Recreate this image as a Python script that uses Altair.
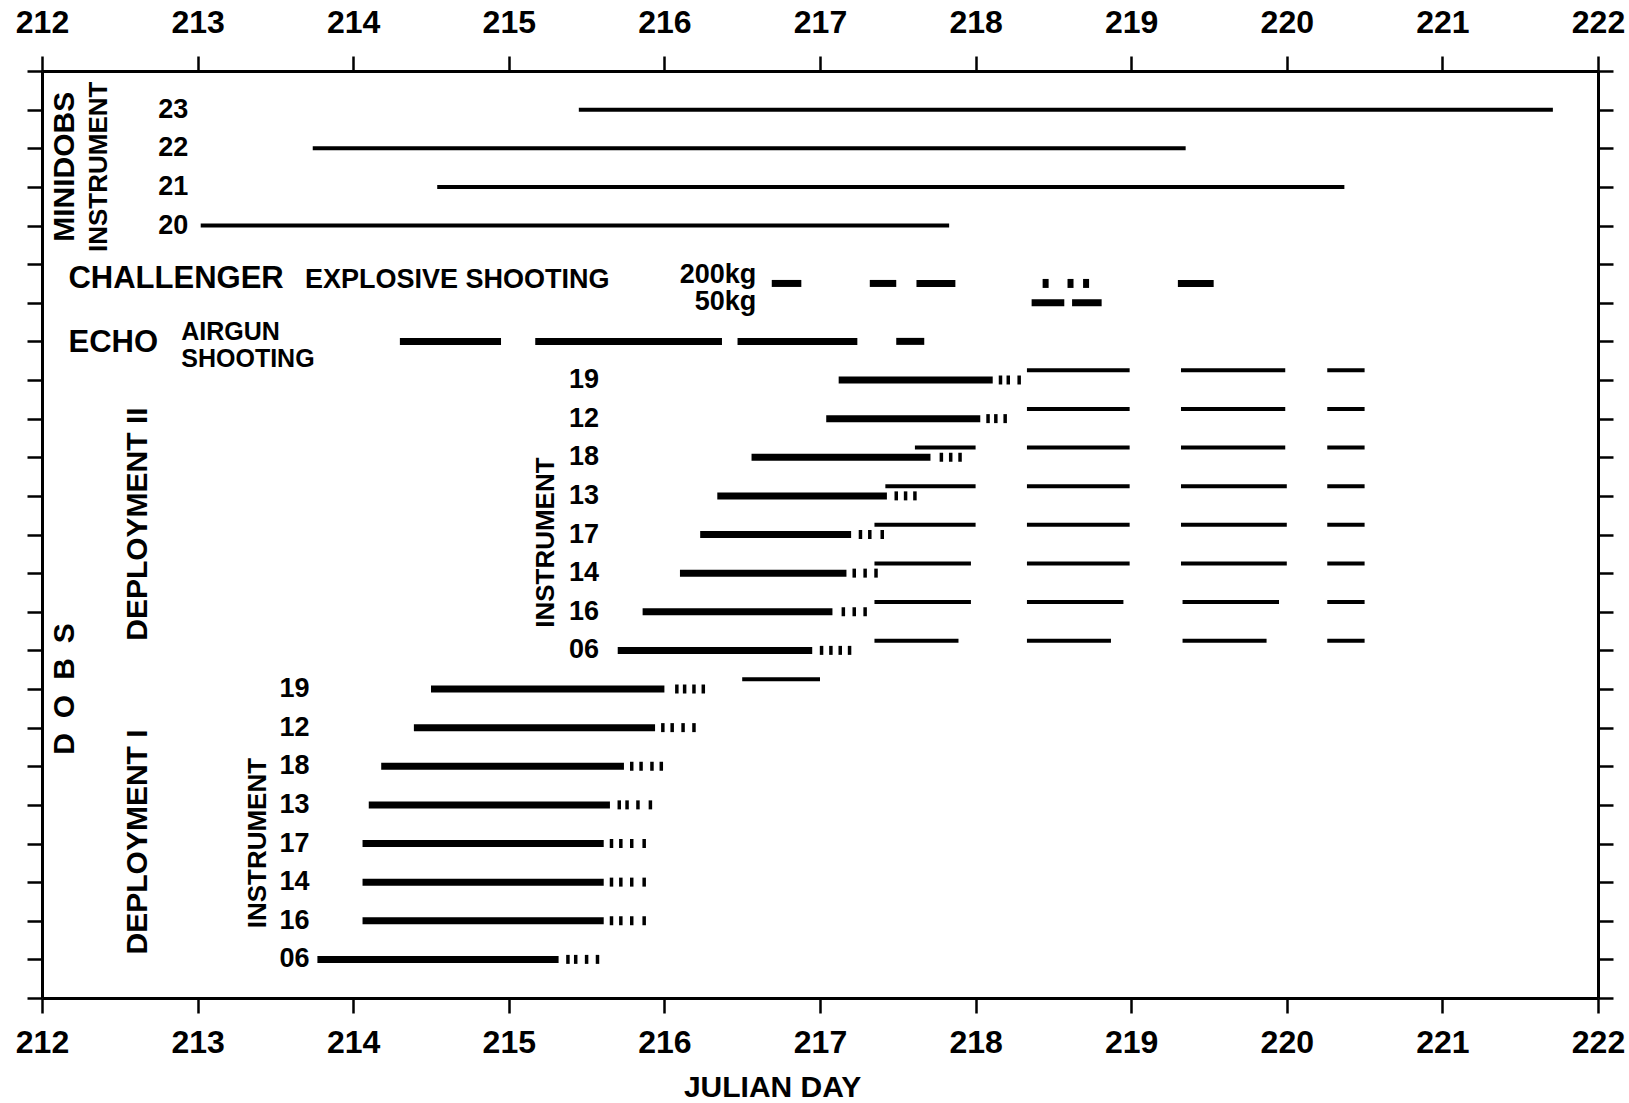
import altair as alt
import pandas as pd

FONT = "Liberation Sans"

# ---------------- axes ----------------
day_ticks = list(range(212, 223))
row_ticks = list(range(0, 25))

# ---------------- MINIDOBS instruments ----------------
mini_ids = ["23", "22", "21", "20"]
mini_rows = [1, 2, 3, 4]
mini_start = [215.45, 213.74, 214.54, 213.02]
mini_end = [221.71, 219.35, 220.37, 217.83]

# ---------------- CHALLENGER explosive shooting ----------------
shot200_row = 5.5
shot200_start = [216.69, 217.32, 217.62, 219.30]
shot200_end = [216.88, 217.49, 217.87, 219.53]
shot200_single = [218.45, 218.61, 218.71]
shot50_row = 6
shot50_start = [218.36, 218.62]
shot50_end = [218.57, 218.81]

# ---------------- ECHO airgun shooting ----------------
airgun_row = 7
airgun_start = [214.30, 215.17, 216.47, 217.49]
airgun_end = [214.95, 216.37, 217.24, 217.67]

# ---------------- DOBS deployment II ----------------
d2_ids = ["19", "12", "18", "13", "17", "14", "16", "06"]
d2_rows = [8, 9, 10, 11, 12, 13, 14, 15]
d2_start = [217.12, 217.04, 216.56, 216.34, 216.23, 216.10, 215.86, 215.70]
d2_end = [218.11, 218.03, 217.71, 217.43, 217.20, 217.17, 217.08, 216.95]
d2_dots = [
    [218.16, 218.21, 218.28],
    [218.08, 218.13, 218.19],
    [217.78, 217.84, 217.90],
    [217.49, 217.55, 217.61],
    [217.26, 217.32, 217.40],
    [217.22, 217.29, 217.36],
    [217.15, 217.22, 217.29],
    [217.01, 217.07, 217.13, 217.19],
]
# second recording (only rows 18..06)
d2_rec2_rows = [10, 11, 12, 13, 14, 15]
d2_rec2_start = [217.61, 217.42, 217.35, 217.35, 217.35, 217.35]
d2_rec2_end = [218.00, 218.00, 218.00, 217.97, 217.97, 217.89]
# later recordings (three per instrument)
d2_rec3_start = [218.33, 218.33, 218.33, 218.33, 218.33, 218.33, 218.33, 218.33]
d2_rec3_end = [218.99, 218.99, 218.99, 218.99, 218.99, 218.99, 218.95, 218.87]
d2_rec4_start = [219.32, 219.32, 219.32, 219.32, 219.32, 219.32, 219.33, 219.33]
d2_rec4_end = [219.99, 219.99, 219.99, 220.00, 220.00, 220.00, 219.95, 219.87]
d2_rec5_start = [220.26, 220.26, 220.26, 220.26, 220.26, 220.26, 220.26, 220.26]
d2_rec5_end = [220.50, 220.50, 220.50, 220.50, 220.50, 220.50, 220.50, 220.50]

# ---------------- DOBS deployment I ----------------
d1_ids = ["19", "12", "18", "13", "17", "14", "16", "06"]
d1_rows = [16, 17, 18, 19, 20, 21, 22, 23]
d1_start = [214.50, 214.39, 214.18, 214.10, 214.06, 214.06, 214.06, 213.77]
d1_end = [216.00, 215.94, 215.74, 215.65, 215.61, 215.61, 215.61, 215.32]
d1_dots = [
    [216.08, 216.13, 216.19, 216.25],
    [215.99, 216.05, 216.12, 216.19],
    [215.79, 215.85, 215.92, 215.98],
    [215.71, 215.76, 215.83, 215.91],
    [215.66, 215.72, 215.79, 215.87],
    [215.66, 215.72, 215.79, 215.87],
    [215.66, 215.72, 215.79, 215.87],
    [215.38, 215.43, 215.50, 215.57],
]
d1_rec2_rows = [16]
d1_rec2_start = [216.50]
d1_rec2_end = [217.00]

REC_SHIFT = 0.25  # later recordings drawn slightly above the instrument row

# ---------------- text annotations ----------------
row_label_text = mini_ids + d2_ids + d1_ids
row_label_row = mini_rows + d2_rows + d1_rows
row_label_x = [212.94] * 4 + [215.58] * 8 + [213.72] * 8

big_text = ["CHALLENGER", "ECHO"]
big_x = [212.17, 212.17]
big_y = [5.38, 7.05]

mid_text = ["EXPLOSIVE SHOOTING"]
mid_x = [213.69]
mid_y = [5.4]

air_text = ["AIRGUN", "SHOOTING"]
air_x = [212.895, 212.895]
air_y = [6.75, 7.45]

kg_text = ["200kg", "50kg"]
kg_x = [216.59, 216.59]
kg_y = [5.27, 5.97]

vbig_text = ["MINIDOBS", "DEPLOYMENT II", "DEPLOYMENT I", "D\u2002O\u2002B\u2002S"]
vbig_x = [212.147, 212.62, 212.62, 212.147]
vbig_y = [2.48, 11.73, 19.96, 16.0]

vsmall_text = ["INSTRUMENT", "INSTRUMENT", "INSTRUMENT"]
vsmall_x = [212.367, 215.24, 213.39]
vsmall_y = [2.48, 12.21, 19.99]

# ---------------- tables ----------------
def segs(starts, ends, rows):
    return pd.DataFrame({"start": starts, "end": ends, "row": rows})

thick = pd.concat([
    segs(shot200_start, shot200_end, [shot200_row] * len(shot200_start)),
    segs(shot50_start, shot50_end, [shot50_row] * len(shot50_start)),
    segs(airgun_start, airgun_end, [airgun_row] * len(airgun_start)),
    segs(d2_start, d2_end, d2_rows),
    segs(d1_start, d1_end, d1_rows),
], ignore_index=True)

shifted_d2 = [r - REC_SHIFT for r in d2_rows]
thin = pd.concat([
    segs(mini_start, mini_end, mini_rows),
    segs(d2_rec2_start, d2_rec2_end, [r - REC_SHIFT for r in d2_rec2_rows]),
    segs(d2_rec3_start, d2_rec3_end, shifted_d2),
    segs(d2_rec4_start, d2_rec4_end, shifted_d2),
    segs(d2_rec5_start, d2_rec5_end, shifted_d2),
    segs(d1_rec2_start, d1_rec2_end, [r - REC_SHIFT for r in d1_rec2_rows]),
], ignore_index=True)

dot_x, dot_row = [], []
for r, ds in zip(d2_rows + d1_rows, d2_dots + d1_dots):
    for d in ds:
        dot_x.append(d)
        dot_row.append(r)
dots = pd.DataFrame({"start": dot_x, "row": dot_row})
singles = pd.DataFrame({"start": shot200_single, "row": [shot200_row] * len(shot200_single)})

xscale = alt.Scale(domain=[212, 222], nice=False, zero=False)
yscale = alt.Scale(domain=[0, 24], nice=False, zero=False, reverse=True)

common_axis = dict(
    grid=False, domainColor="black", domainWidth=3, tickColor="black",
    tickWidth=2.5, tickSize=15, labelColor="black", labelFont=FONT,
    labelFontWeight="bold", labelFontSize=32, labelFlush=False,
    labelOverlap=False,
)

x_bottom = alt.Axis(
    orient="bottom", values=day_ticks, format="d", labelPadding=14,
    title="JULIAN DAY", titleFont=FONT, titleFontSize=30, titleFontWeight="bold",
    titleColor="black", titleX=730, titleY=98, titleAlign="center",
    titleBaseline="alphabetic", **common_axis,
)
x_top = alt.Axis(orient="top", values=day_ticks, format="d", labelPadding=17,
                 title=None, **common_axis)
y_left = alt.Axis(orient="left", values=row_ticks, labels=False, title=None, **common_axis)
y_right = alt.Axis(orient="right", values=row_ticks, labels=False, title=None, **common_axis)

thick_layer = alt.Chart(thick).mark_rule(color="black", strokeWidth=7).encode(
    x=alt.X("start:Q", scale=xscale, axis=x_bottom),
    x2="end:Q",
    y=alt.Y("row:Q", scale=yscale, axis=y_left),
)
thin_layer = alt.Chart(thin).mark_rule(color="black", strokeWidth=4).encode(
    x=alt.X("start:Q", scale=xscale, axis=x_top),
    x2="end:Q",
    y=alt.Y("row:Q", scale=yscale, axis=y_right),
)
dot_layer = alt.Chart(dots).mark_tick(
    color="black", opacity=1, orient="vertical", thickness=3.5, size=9
).encode(
    x=alt.X("start:Q", scale=xscale, axis=None),
    y=alt.Y("row:Q", scale=yscale, axis=None),
)
single_layer = alt.Chart(singles).mark_tick(
    color="black", opacity=1, orient="vertical", thickness=6, size=9
).encode(
    x=alt.X("start:Q", scale=xscale, axis=None),
    y=alt.Y("row:Q", scale=yscale, axis=None),
)


def text_layer(texts, xs, ys, size, align="left", angle=0):
    df = pd.DataFrame({"t": texts, "x": xs, "y": ys})
    kw = dict(font=FONT, fontWeight="bold", fontSize=size, color="black",
              align=align, baseline="middle")
    if angle:
        kw["angle"] = angle
    return alt.Chart(df).mark_text(**kw).encode(
        x=alt.X("x:Q", scale=xscale, axis=None),
        y=alt.Y("y:Q", scale=yscale, axis=None),
        text="t:N",
    )


layers = [
    thick_layer, thin_layer, dot_layer, single_layer,
    text_layer(row_label_text, row_label_x, row_label_row, 27, align="right"),
    text_layer(big_text, big_x, big_y, 31),
    text_layer(mid_text, mid_x, mid_y, 27),
    text_layer(air_text, air_x, air_y, 25),
    text_layer(kg_text, kg_x, kg_y, 27, align="right"),
    text_layer(vbig_text, vbig_x, vbig_y, 30, align="center", angle=270),
    text_layer(vsmall_text, vsmall_x, vsmall_y, 26, align="center", angle=270),
]

chart = alt.layer(*layers).resolve_axis(x="independent", y="independent").properties(
    width=1556, height=927,
    autosize=alt.AutoSizeParams(type="none"),
    padding={"left": 42, "top": 71, "right": 31, "bottom": 105},
    background="white",
).configure_view(strokeWidth=0)

chart.save("out.html", embed_options={"renderer": "svg", "actions": False})
